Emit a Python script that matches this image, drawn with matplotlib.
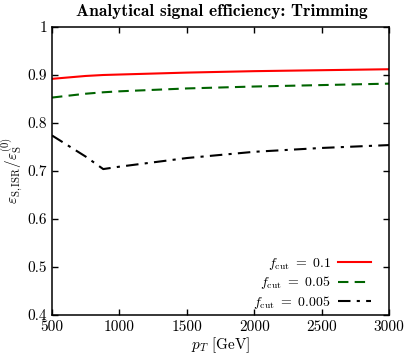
import numpy as np
import matplotlib
matplotlib.use("Agg")
import matplotlib.pyplot as plt

# Values
pt = [500, 750, 880, 1000, 1500, 2000, 2500, 3000]
eff_01 = [0.892, 0.898, 0.900, 0.901, 0.905, 0.908, 0.910, 0.912]
eff_005 = [0.853, 0.861, 0.864, 0.866, 0.872, 0.876, 0.879, 0.882]
eff_0005 = [0.774, 0.730, 0.704, 0.709, 0.727, 0.740, 0.748, 0.754]

xticks = [500, 1000, 1500, 2000, 2500, 3000]
yticks = [0.4, 0.5, 0.6, 0.7, 0.8, 0.9, 1.0]
yticklabels = ["0.4", "0.5", "0.6", "0.7", "0.8", "0.9", "1"]

plt.rcParams["font.family"] = "serif"
plt.rcParams["font.serif"] = ["cmr10"]
plt.rcParams["mathtext.fontset"] = "cm"
plt.rcParams["axes.formatter.use_mathtext"] = True
plt.rcParams["font.size"] = 11

fig = plt.figure(figsize=(4.07, 3.57), dpi=100)
ax = fig.add_axes([52 / 407, 42 / 357, 337 / 407, 288 / 357])

ax.plot(pt, eff_01, color="red", lw=1.5, label=r"$f_{\rm cut}\ =\ 0.1$")
ax.plot(pt, eff_005, color="#006400", lw=1.5, ls=(0, (5, 3)), label=r"$f_{\rm cut}\ =\ 0.05$")
ax.plot(pt, eff_0005, color="black", lw=1.5, ls=(0, (6, 3, 1.5, 3)), label=r"$f_{\rm cut}\ =\ 0.005$")

ax.set_xlim(500, 3000)
ax.set_ylim(0.4, 1.0)
ax.set_xticks(xticks)
ax.set_xticklabels([str(t) for t in xticks])
ax.set_yticks(yticks)
ax.set_yticklabels(yticklabels)
ax.tick_params(direction="in", top=True, right=True, length=4, width=1, labelsize=11)
for s in ax.spines.values():
    s.set_linewidth(1.1)

ax.set_xlabel(r"$p_T$ [GeV]", fontsize=11, labelpad=1)
ax.set_ylabel(r"$\varepsilon_{\rm S,ISR}/\varepsilon_{\rm S}^{(0)}$", fontsize=11, labelpad=2)
fig.text(0.545, 0.99, "Analytical signal efficiency: Trimming", ha="center", va="top",
         fontsize=12.5, fontfamily="cmb10")

ax.legend(loc="lower right", frameon=False, markerfirst=False, fontsize=10,
          handlelength=2.4, handletextpad=0.5, labelspacing=0.2,
          bbox_to_anchor=(0.985, -0.03))

fig.savefig("out.png", dpi=100)
